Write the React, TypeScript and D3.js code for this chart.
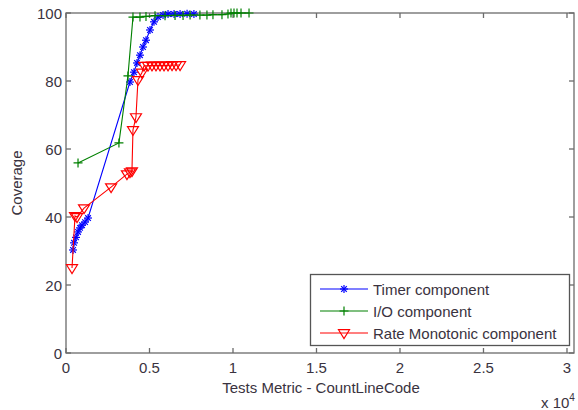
import { useEffect, useRef } from "react";
import * as d3 from "d3";

// x values are CountLineCode, y values coverage in %
const timerX = [420, 480, 600, 720, 840, 960, 1140, 1320, 3830, 4070, 4250, 4430, 4610, 4790, 5030, 5270, 5510, 5810, 6110, 6470, 6830, 7250, 7660];
const timerY = [30.3, 32.4, 34, 35.6, 36.8, 37.6, 38.5, 39.7, 79.7, 82.6, 85.3, 87.6, 90, 92, 95, 97.4, 98.8, 99.4, 99.7, 99.7, 99.7, 99.8, 99.7];

const ioX = [720, 3170, 3710, 4010, 4430, 4790, 5330, 5930, 6530, 7010, 7430, 8020, 8440, 8800, 9340, 9700, 9880, 10060, 10240, 10480, 10960];
const ioY = [55.9, 61.8, 81.5, 98.8, 98.8, 99, 99.2, 99.2, 99.3, 99.3, 99.4, 99.4, 99.4, 99.5, 99.5, 99.7, 100, 100, 100, 100, 100];

const rateX = [360, 540, 660, 1080, 2700, 3650, 3830, 3950, 4010, 4190, 4310, 4550, 4670, 4910, 5150, 5390, 5630, 5870, 6110, 6350, 6590, 6830];
const rateY = [25, 40.3, 40, 42.6, 48.8, 52.6, 53.2, 53.5, 65.6, 69.4, 80.3, 82.5, 84.5, 84.5, 84.6, 84.6, 84.6, 84.6, 84.6, 84.7, 84.7, 84.7];

const seriesNames = ["Timer component", "I/O component", "Rate Monotonic component"];
const xTicks = [0, 5000, 10000, 15000, 20000, 25000, 30000];
const yTicks = [0, 20, 40, 60, 80, 100];

const W = 578;
const H = 410;
const font = "Liberation Sans, Arial, sans-serif";
const fs = 15;

function App() {
  const svgRef = useRef(null);

  useEffect(() => {
    const svg = d3.select(svgRef.current);
    svg.selectAll("*").remove();

    const left = 66, right = 574, top = 13, bottom = 353;
    const x = d3.scaleLinear().domain([0, 30420]).range([left, right]);
    const y = d3.scaleLinear().domain([0, 100]).range([bottom, top]);

    const axisColor = "#6b6b6b";
    const textColor = "#3a3340";

    // box
    svg.append("rect")
      .attr("x", left).attr("y", top)
      .attr("width", right - left).attr("height", bottom - top)
      .attr("fill", "white").attr("stroke", axisColor).attr("stroke-width", 1.3);

    // ticks (inward, all four sides)
    const tl = 5;
    const tg = svg.append("g").attr("stroke", axisColor).attr("stroke-width", 1.3);
    xTicks.forEach(t => {
      tg.append("line").attr("x1", x(t)).attr("x2", x(t)).attr("y1", bottom).attr("y2", bottom - tl);
      tg.append("line").attr("x1", x(t)).attr("x2", x(t)).attr("y1", top).attr("y2", top + tl);
    });
    yTicks.forEach(t => {
      tg.append("line").attr("x1", left).attr("x2", left + tl).attr("y1", y(t)).attr("y2", y(t));
      tg.append("line").attr("x1", right).attr("x2", right - tl).attr("y1", y(t)).attr("y2", y(t));
    });

    // tick labels
    svg.append("g").selectAll("text").data(xTicks).join("text")
      .attr("x", d => x(d)).attr("y", 373)
      .attr("text-anchor", "middle").attr("font-family", font).attr("font-size", fs)
      .attr("fill", textColor)
      .text(d => d3.format("")(d / 10000));
    svg.append("g").selectAll("text").data(yTicks).join("text")
      .attr("x", left - 4).attr("y", d => y(d) + 5.5)
      .attr("text-anchor", "end").attr("font-family", font).attr("font-size", fs)
      .attr("fill", textColor)
      .text(d => d);

    svg.append("text").attr("x", 321).attr("y", 393)
      .attr("text-anchor", "middle").attr("font-family", font).attr("font-size", fs)
      .attr("fill", textColor).text("Tests Metric - CountLineCode");
    svg.append("text").attr("transform", "translate(22,183) rotate(-90)")
      .attr("text-anchor", "middle").attr("font-family", font).attr("font-size", fs)
      .attr("fill", textColor).text("Coverage");
    const exp = svg.append("text").attr("x", 541).attr("y", 408)
      .attr("font-family", font).attr("font-size", fs).attr("fill", textColor);
    exp.append("tspan").text("x 10");
    exp.append("tspan").attr("font-size", 10).attr("dy", -7).text("4");

    const line = d3.line<[number, number]>().x(d => x(d[0])).y(d => y(d[1]));

    const star = (g, cx, cy, col) => {
      const r = 4;
      [[-r, 0, r, 0], [0, -r, 0, r], [-r * 0.7, -r * 0.7, r * 0.7, r * 0.7], [-r * 0.7, r * 0.7, r * 0.7, -r * 0.7]].forEach(s => {
        g.append("line").attr("x1", cx + s[0]).attr("y1", cy + s[1]).attr("x2", cx + s[2]).attr("y2", cy + s[3])
          .attr("stroke", col).attr("stroke-width", 1.2);
      });
    };
    const plus = (g, cx, cy, col) => {
      const r = 4.5;
      g.append("path").attr("d", `M${cx - r},${cy}H${cx + r}M${cx},${cy - r}V${cy + r}`)
        .attr("stroke", col).attr("stroke-width", 1.2).attr("fill", "none");
    };
    const tri = (g, cx, cy, col) => {
      const r = 5.5;
      g.append("path").attr("d", `M${cx - r},${cy - r * 0.6}L${cx + r},${cy - r * 0.6}L${cx},${cy + r}Z`)
        .attr("stroke", col).attr("stroke-width", 1.2).attr("fill", "none");
    };

    const series = [
      { xs: timerX, ys: timerY, color: "#0000ff", marker: star },
      { xs: ioX, ys: ioY, color: "#008000", marker: plus },
      { xs: rateX, ys: rateY, color: "#ff0000", marker: tri },
    ];

    series.forEach(s => {
      const pts = s.xs.map((v, i) => [v, s.ys[i]] as [number, number]);
      const g = svg.append("g");
      g.append("path").attr("d", line(pts)).attr("fill", "none")
        .attr("stroke", s.color).attr("stroke-width", 1.1);
      pts.forEach(p => s.marker(g, x(p[0]), y(p[1]), s.color));
    });

    // legend
    const lg = svg.append("g");
    lg.append("rect").attr("x", 310.5).attr("y", 274.5).attr("width", 259).attr("height", 71)
      .attr("fill", "white").attr("stroke", "#555").attr("stroke-width", 1.3);
    seriesNames.forEach((name, i) => {
      const cy = 289 + i * 22;
      const s = series[i];
      lg.append("line").attr("x1", 320).attr("x2", 368).attr("y1", cy).attr("y2", cy)
        .attr("stroke", s.color).attr("stroke-width", 1.1);
      s.marker(lg, 344, cy, s.color);
      lg.append("text").attr("x", 373).attr("y", cy + 5.5)
        .attr("font-family", font).attr("font-size", fs).attr("fill", textColor).text(name);
    });
  }, []);

  return (
    <svg ref={svgRef} width={W} height={H} viewBox={`0 0 ${W} ${H}`}
      style={{ position: "absolute", left: 0, top: 0, background: "white" }} />
  );
}

export default App;
